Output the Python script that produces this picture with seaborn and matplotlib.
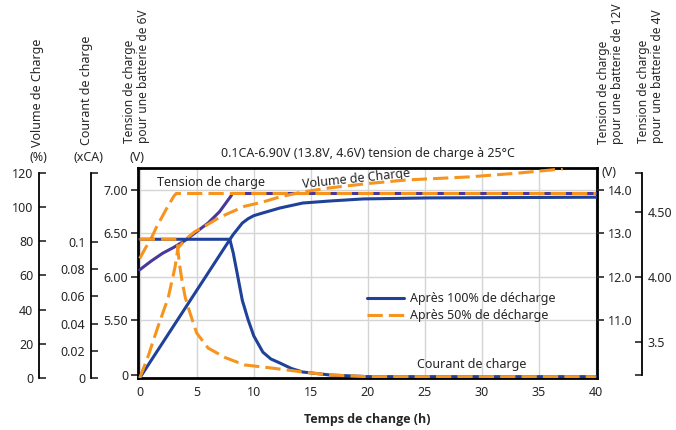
import matplotlib
matplotlib.use("Agg")
import matplotlib.pyplot as plt
import seaborn as sns

# values (time in hours)
# charge voltage, 6V battery scale
volt100_t = [0, 1, 2, 3, 4, 5, 6, 7, 7.5, 8, 8.1, 40]
volt100_v = [6.08, 6.18, 6.27, 6.34, 6.42, 6.52, 6.62, 6.75, 6.84, 6.93, 6.96, 6.96]
volt50_t = [0, 0.5, 1, 1.5, 2, 2.5, 3, 3.2, 40]
volt50_v = [6.21, 6.33, 6.44, 6.58, 6.70, 6.82, 6.93, 6.96, 6.96]

# charge current (xCA)
cur100_t = [0, 7.9, 8.2, 8.5, 9.0, 9.5, 10, 10.8, 11.5, 12.3, 13.3, 14.3, 16.7, 20, 40]
cur100_c = [0.102, 0.102, 0.092, 0.079, 0.057, 0.043, 0.031, 0.019, 0.014, 0.011,
            0.007, 0.0044, 0.0022, 0.001, 0.001]
cur50_t = [0, 3.3, 3.35, 3.5, 3.7, 4.0, 4.4, 5.0, 6.0, 7.5, 9.2, 11.4, 14.3, 16.7, 20, 40]
cur50_c = [0.102, 0.102, 0.094, 0.083, 0.072, 0.059, 0.048, 0.033, 0.022, 0.015, 0.0096,
           0.0075, 0.0044, 0.0022, 0.001, 0.001]

# charged volume (%)
vol100_t = [0, 7.9, 8.2, 8.5, 9.0, 9.5, 10, 10.8, 12.3, 14.3, 16.7, 19.6, 25.4, 40]
vol100_p = [0, 81, 84, 86.5, 90.7, 93.2, 95, 96.6, 99.5, 102.4, 103.6, 104.8, 105.4, 105.8]
vol50_t = [0, 0.7, 1.6, 2.5, 3.1, 3.35, 4.0, 4.8, 6.0, 7.0, 8.0, 9.2, 10.8, 12.3,
           14.3, 16.7, 20, 23.4, 28.9, 33, 37.1]
vol50_p = [0, 12, 30, 47, 65, 76, 81, 85.5, 90, 94, 97, 100.5, 103, 106, 108.9,
           111.3, 113.8, 115.9, 117.7, 119.8, 122.4]

time_ticks = [0, 5, 10, 15, 20, 25, 30, 35, 40]
v6_ticks = [4.867, 5.5, 6.0, 6.5, 7.0]
v6_labels = ["0", "5.50", "6.00", "6.50", "7.00"]
v12_ticks = [11, 12, 13, 14]
v12_labels = ["11.0", "12.0", "13.0", "14.0"]
v4_ticks = [3.5, 4.0, 4.5]
v4_labels = ["3.5", "4.00", "4.50"]
pct_ticks = [0, 20, 40, 60, 80, 100, 120]
cur_ticks = [0, 0.02, 0.04, 0.06, 0.08, 0.1]
cur_labels = ["0", "0.02", "0.04", "0.06", "0.08", "0.1"]

BLUE = "#1f4199"
PURPLE = "#47389a"
ORANGE = "#f7941d"
GRID = "#d4d4d4"
FS = 9

sns.set_theme(style="white")
plt.rcParams["font.family"] = ["Noto Sans", "DejaVu Sans"]
plt.rcParams["font.size"] = FS

W, H = 676, 430
fig = plt.figure(figsize=(W / 100, H / 100), dpi=100)


def box(left, top, right, bottom):
    return [left / W, 1 - bottom / H, (right - left) / W, (bottom - top) / H]


# main axes: 6V voltage scale
ax = fig.add_axes(box(138, 168, 597, 378))
ax.set_xlim(-0.15, 40.1)
ax.set_ylim(4.832, 7.254)
ax_vol = ax.twinx()
ax_vol.set_ylim(0, 122.9)
ax_cur = ax.twinx()
ax_cur.set_ylim(0, 0.1544)
ax12 = ax.twinx()
ax12.set_ylim(9.664, 14.507)

lw = 2.2
dash = (0, (5, 2))
common = dict(sort=False, estimator=None)
sns.lineplot(x=volt100_t, y=volt100_v, ax=ax, color=PURPLE, lw=lw, zorder=3, **common)
sns.lineplot(x=volt50_t, y=volt50_v, ax=ax, color=ORANGE, lw=lw, ls=dash, zorder=4, **common)
sns.lineplot(x=vol100_t, y=vol100_p, ax=ax_vol, color=BLUE, lw=lw, zorder=3,
             label="Après 100% de décharge", **common)
sns.lineplot(x=vol50_t, y=vol50_p, ax=ax_vol, color=ORANGE, lw=lw, ls=dash, zorder=4,
             label="Après 50% de décharge", **common)
sns.lineplot(x=cur100_t, y=cur100_c, ax=ax_cur, color=BLUE, lw=lw, zorder=3, **common)
sns.lineplot(x=cur50_t, y=cur50_c, ax=ax_cur, color=ORANGE, lw=lw, ls=dash, zorder=4, **common)

for a in (ax_vol, ax_cur, ax12):
    for s in a.spines.values():
        s.set_visible(False)
    a.set_ylabel("")
for a in (ax_vol, ax_cur):
    a.set_yticks([])
    if a.get_legend():
        a.get_legend().remove()

handles, labels = ax_vol.get_legend_handles_labels()
ax_cur.legend(handles, labels, loc="upper left", bbox_to_anchor=(0.5, 0.41), frameon=False,
              borderpad=0, borderaxespad=0, handlelength=2.9, handletextpad=0.5,
              labelspacing=0.35, fontsize=FS)

# frame and grid
for s in ax.spines.values():
    s.set_visible(True)
    s.set_color("black")
    s.set_linewidth(2)
ax.set_xticks(time_ticks)
ax.set_yticks(v6_ticks)
ax.set_yticklabels(v6_labels)
ax.tick_params(axis="x", length=0, pad=6, labelsize=FS)
ax.tick_params(axis="y", direction="out", length=5, width=1.2, pad=2, labelsize=FS, left=True)
ax.grid(True, color=GRID, lw=1)
ax.get_ygridlines()[0].set_visible(False)
ax.set_axisbelow(True)
ax.set_xlabel("Temps de change (h)", fontweight="bold", fontsize=FS, labelpad=10,
              family=["Open Sans", "DejaVu Sans"])
ax.set_title("0.1CA-6.90V (13.8V, 4.6V) tension de charge à 25°C", fontsize=FS, pad=8)

ax12.set_yticks(v12_ticks)
ax12.set_yticklabels(v12_labels)
ax12.tick_params(axis="y", direction="out", length=5, width=1.2, pad=3, labelsize=FS, right=True)


def scale_axis(left_px, ylim, ticks, labels, bounds, side):
    a = fig.add_axes(box(left_px, 168, left_px + 0.5, 378))
    a.set_ylim(*ylim)
    a.patch.set_visible(False)
    a.set_xticks([])
    for name, s in a.spines.items():
        s.set_visible(name == side)
    a.spines[side].set_linewidth(1.3)
    a.spines[side].set_color("black")
    a.spines[side].set_bounds(*bounds)
    a.set_yticks(ticks)
    a.set_yticklabels(labels)
    a.set_yticks(list(bounds), minor=True)
    if side == "right":
        a.yaxis.tick_right()
    a.tick_params(axis="y", which="both", direction="in", length=5, width=1.2, pad=4,
                  labelsize=FS, left=(side == "left"), right=(side == "right"))
    return a


scale_axis(39, (0, 122.9), pct_ticks, [str(t) for t in pct_ticks], (0, 120), "left")
scale_axis(91, (0, 0.1544), cur_ticks, cur_labels, (0, 0.1507), "left")
scale_axis(641.5, (3.221, 4.836), v4_ticks, v4_labels, (3.244, 4.797), "right")

# curve labels
ax.text(1.5, 7.09, "Tension de charge", fontsize=FS, va="center", ha="left")
ax.text(18.95, 7.13, "Volume de Charge", fontsize=FS, va="center", ha="center", rotation=6)
ax.text(29.15, 4.993, "Courant de charge", fontsize=FS, va="center", ha="center")


# axis headers
def header(xpx, ypx, s, size=FS):
    fig.text(xpx / W, 1 - ypx / H, s, rotation=90, ha="center", va="bottom",
             multialignment="left", fontsize=size, linespacing=1.1)


header(38, 147, "Volume de Charge")
header(86, 145, "Courant de charge")
header(137, 143, "Tension de charge\npour une batterie de 6V", 8.6)
header(610, 144, "Tension de charge\npour une batterie de 12V", 8.6)
header(651, 143, "Tension de charge\npour une batterie de 4V", 8.6)
for xpx, ypx, s in [(38, 157, "(%)"), (88, 157, "(xCA)"), (137, 157, "(V)"), (609, 173, "(V)")]:
    fig.text(xpx / W, 1 - ypx / H, s, ha="center", va="center", fontsize=FS)

fig.savefig("out.png", dpi=100)
